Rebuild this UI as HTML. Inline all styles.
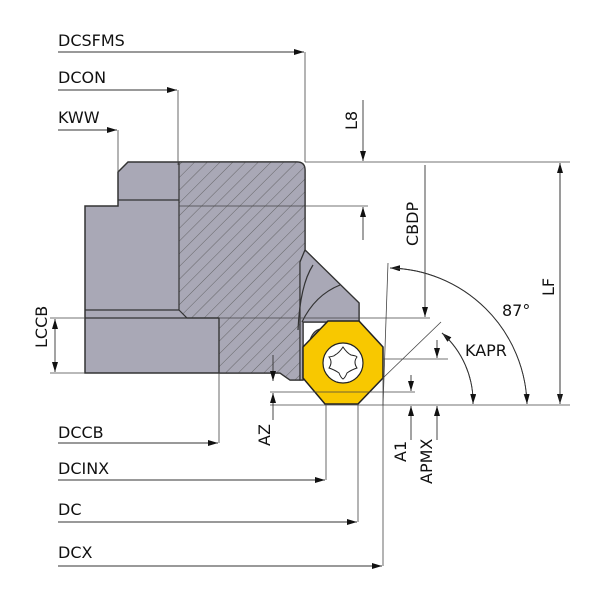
<!DOCTYPE html>
<html><head><meta charset="utf-8"><style>html,body{margin:0;padding:0;background:#fff}svg{display:block}text{font-family:"DejaVu Sans","Liberation Sans",sans-serif;font-size:16px;fill:#111}</style></head><body>
<svg width="600" height="600" viewBox="0 0 600 600" xmlns="http://www.w3.org/2000/svg">
<defs>
<marker id="a" viewBox="0 0 10 6" refX="10" refY="3" markerWidth="10" markerHeight="6" orient="auto-start-reverse" markerUnits="userSpaceOnUse"><path d="M0,0L10,3L0,6z" fill="#111"/></marker>
<pattern id="h" width="9" height="9" patternUnits="userSpaceOnUse" patternTransform="rotate(45)"><rect width="9" height="9" fill="#a9a8b6"/><line x1="0" y1="0" x2="0" y2="9" stroke="#555" stroke-width="0.8"/></pattern>
</defs>
<path d="M85,206 L118,206 L118,172 L128,162 L297,162 Q305,162 305,170 L305,250 L359,303 L359,322 L303,322 L303,380 L290,380 L280,373 L85,373 Z" fill="#a9a8b6" stroke="#333" stroke-width="1.5"/>
<path d="M179,162 L297,162 Q305,162 305,170 L305,250 L300,262 L300,380 L290,380 L280,373 L219,373 L219,318 L187,318 L179,310 Z" fill="url(#h)" stroke="#333" stroke-width="1.2"/>
<path d="M305,250 L359,303 L359,322 L303,322 L303,380 L300,380 L300,262 Z" fill="#a9a8b6" stroke="#333" stroke-width="1.2"/>
<path d="M313,265 Q300,285 298,330" fill="none" stroke="#333" stroke-width="1.2"/>
<path d="M340,285 Q315,295 302,322" fill="none" stroke="#333" stroke-width="1.2"/>
<path d="M310,340 Q315,325 330,330" fill="#a9a8b6" stroke="#333" stroke-width="1.2"/>
<line x1="118" y1="200" x2="179" y2="200" stroke="#333" stroke-width="1.2"/>
<line x1="85" y1="310" x2="179" y2="310" stroke="#333" stroke-width="1.2"/>
<line x1="85" y1="318" x2="219" y2="318" stroke="#333" stroke-width="1.2"/>
<line x1="219" y1="318" x2="219" y2="373" stroke="#333" stroke-width="1.2"/>
<path d="M328,321 L359,321 L383,347 L383,378 L358,404 L325,404 L303,378 L303,347 Z" fill="#f8c800" stroke="#222" stroke-width="1.5"/>
<circle cx="343" cy="363" r="20" fill="#fff" stroke="#222" stroke-width="1.2"/>
<path d="M343,347 Q347,353 351,355 Q357,356 357,357 Q353,362 357,368 Q351,370 347,373 Q345,378 343,379 Q341,378 339,373 Q335,370 329,368 Q333,362 329,357 Q335,356 335,355 Q339,353 343,347 Z" fill="#fff" stroke="#222" stroke-width="1"/>
<g stroke="#444" stroke-width="0.8" fill="none">
<line x1="305" y1="52" x2="305" y2="162"/>
<line x1="178" y1="90" x2="178" y2="165"/>
<line x1="118" y1="130" x2="118" y2="172"/>
<line x1="305" y1="162" x2="570" y2="162"/>
<line x1="179" y1="206" x2="368" y2="206"/>
<line x1="50" y1="318" x2="85" y2="318"/>
<line x1="219" y1="318" x2="430" y2="318"/>
<line x1="50" y1="373" x2="85" y2="373"/>
<line x1="270" y1="405" x2="570" y2="405"/>
<line x1="270" y1="392" x2="415" y2="392"/>
<line x1="383" y1="359" x2="448" y2="359"/>
<line x1="219" y1="373" x2="219" y2="443"/>
<line x1="326" y1="404" x2="326" y2="480"/>
<line x1="358" y1="404" x2="358" y2="522"/>
<line x1="383" y1="378" x2="383" y2="566"/>
<line x1="383" y1="405" x2="388" y2="263"/>
<line x1="383" y1="378" x2="441" y2="322"/>
</g>
<g stroke="#333" stroke-width="0.9" fill="none" marker-end="url(#a)">
<line x1="58" y1="52" x2="304" y2="52"/>
<line x1="58" y1="90" x2="177" y2="90"/>
<line x1="58" y1="130" x2="117" y2="130"/>
<line x1="58" y1="443" x2="218" y2="443"/>
<line x1="58" y1="480" x2="325" y2="480"/>
<line x1="58" y1="522" x2="357" y2="522"/>
<line x1="58" y1="566" x2="382" y2="566"/>
<line x1="363" y1="100" x2="363" y2="161"/>
<line x1="363" y1="240" x2="363" y2="207"/>
<line x1="425" y1="165" x2="425" y2="317"/>
<line x1="560" y1="163" x2="560" y2="404"/>
<line x1="560" y1="404" x2="560" y2="163"/>
<line x1="55" y1="345" x2="55" y2="319"/>
<line x1="55" y1="345" x2="55" y2="372"/>
<line x1="437" y1="340" x2="437" y2="358"/>
<line x1="437" y1="440" x2="437" y2="406"/>
<line x1="411" y1="375" x2="411" y2="391"/>
<line x1="411" y1="440" x2="411" y2="406"/>
<line x1="273" y1="355" x2="273" y2="381"/>
<line x1="273" y1="420" x2="273" y2="393"/>
<path d="M527,404 A140,140 0 0 0 390,268"/>
<path d="M390,268 A140,140 0 0 1 527,404"/>
<path d="M473,404 A92,92 0 0 0 442,333"/>
<path d="M442,333 A92,92 0 0 1 473,404"/>
</g>
<text x="58" y="46">DCSFMS</text>
<text x="58" y="83">DCON</text>
<text x="58" y="123">KWW</text>
<text x="58" y="438">DCCB</text>
<text x="58" y="474">DCINX</text>
<text x="58" y="515">DC</text>
<text x="58" y="558">DCX</text>
<text x="502" y="316">87°</text>
<text x="465" y="356">KAPR</text>
<text transform="translate(357,130) rotate(-90)">L8</text>
<text transform="translate(418,246) rotate(-90)">CBDP</text>
<text transform="translate(554,296) rotate(-90)">LF</text>
<text transform="translate(47,348) rotate(-90)">LCCB</text>
<text transform="translate(270,446) rotate(-90)">AZ</text>
<text transform="translate(406,462) rotate(-90)">A1</text>
<text transform="translate(432,484) rotate(-90)">APMX</text>
</svg>
</body></html>
